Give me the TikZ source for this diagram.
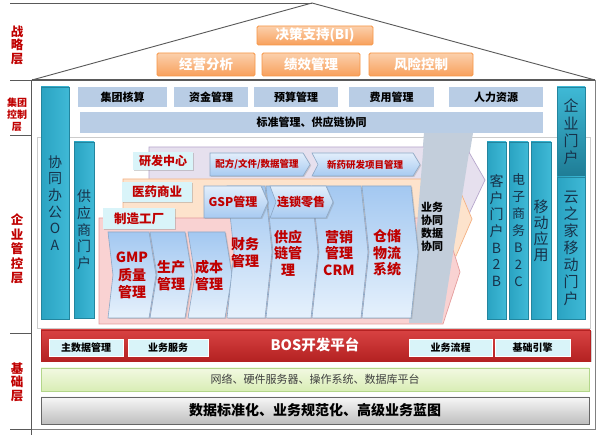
\documentclass[tikz,border=0pt]{standalone}
\usepackage{fontspec}
\setmainfont{Noto Sans CJK SC}
\usetikzlibrary{shadows}
\definecolor{tred}{HTML}{C00000}
\definecolor{roofD}{HTML}{F79646}
\definecolor{roofT}{HTML}{FBD0AC}
\definecolor{roofB}{HTML}{F8A05C}
\definecolor{grpC}{HTML}{B9CDE5}
\definecolor{tealL}{HTML}{2AA3C2}
\definecolor{tealR}{HTML}{3FB9D6}
\definecolor{tealD}{HTML}{23859E}
\definecolor{tealT}{HTML}{17324A}
\definecolor{tealDk}{HTML}{1E7C95}
\definecolor{cyanC}{HTML}{D9F4F9}
\definecolor{colD}{HTML}{8DA8C6}
\definecolor{colT}{HTML}{A3C8F1}
\definecolor{colB}{HTML}{E6F1FC}
\definecolor{rowT}{HTML}{E2EEFB}
\definecolor{rowB}{HTML}{A7CAF1}
\definecolor{purC}{HTML}{E6E0EE}
\definecolor{purD}{HTML}{B7A7CC}
\definecolor{oraC}{HTML}{FDE3CC}
\definecolor{oraD}{HTML}{F4B183}
\definecolor{pinkC}{HTML}{F9D2D2}
\definecolor{pinkD}{HTML}{E59C9C}
\definecolor{bandC}{HTML}{C3CEDB}
\definecolor{lineC}{HTML}{595959}
\definecolor{bosT}{HTML}{D84242}
\definecolor{bosB}{HTML}{B42222}
\definecolor{grnT}{HTML}{F2F9E2}
\definecolor{grnB}{HTML}{D9EDB5}
\definecolor{grnD}{HTML}{B3D68A}
\definecolor{gryT}{HTML}{F7F7F7}
\definecolor{gryB}{HTML}{BEBEBE}
\newcommand{\chevp}[7]{\path[#7] (#1,#3) -- ({#2-#6},#3) -- (#2,{(#3+#4)/2}) -- ({#2-#6},#4) -- (#1,#4) -- ({#1+#5},{(#3+#4)/2}) -- cycle;}
\begin{document}
\begin{tikzpicture}[x=1pt,y=-1pt,
  lbl/.style={text=tred, align=center, inner sep=0},
  roof/.style={rounded corners=1.5pt, draw=roofD, line width=0.8pt, top color=roofT, bottom color=roofB, text=white, inner sep=0, font=\fontsize{13.5}{15}\selectfont\bfseries},
  grp/.style={fill=grpC, inner sep=0, font=\fontsize{11}{13}\selectfont\bfseries, text=black},
  tealc/.style={draw=tealD, line width=0.6pt, left color=tealL, right color=tealR, inner sep=0, align=center, text=tealT, font=\fontsize{14}{16.7}\selectfont},
  cyanlbl/.style={fill=cyanC, drop shadow={shadow xshift=1.2pt, shadow yshift=-1.2pt, opacity=0.35}, text=tred, inner sep=0, font=\fontsize{12.5}{15}\selectfont\bfseries},
  colshape/.style={draw=colD, line width=0.6pt, top color=colT, bottom color=colB, drop shadow={shadow xshift=1.2pt, shadow yshift=-1pt, opacity=0.3}},
  rowshape/.style={draw=colD, line width=0.6pt, top color=rowT, bottom color=rowB, drop shadow={shadow xshift=1.2pt, shadow yshift=-1pt, opacity=0.3}},
  coltext/.style={text=tred, font=\fontsize{14}{16.5}\selectfont\bfseries, align=center, inner sep=0},
  bosbox/.style={fill=cyanC, draw=white, line width=0.6pt, inner sep=0, font=\fontsize{10}{12}\selectfont\bfseries, text=black, minimum height=17, drop shadow={shadow xshift=1pt, shadow yshift=-1pt, opacity=0.4}},
]
\useasboundingbox (0,0) rectangle (600,435);
\fill[white] (0,0) rectangle (600,435);

% --- frame lines ---
\draw[lineC, line width=0.9pt] (10,3) -- (312,3);
\draw[lineC, line width=0.9pt] (32,80) -- (312,3) -- (595,80);
\draw[lineC, line width=0.8pt] (10,80) -- (32,80);
\draw[lineC, line width=1.6pt] (32,80) -- (595,80);
\draw[gray, line width=0.7pt] (595,80) -- (595,429) -- (31,429);
\draw[lineC, line width=0.8pt] (31,80) -- (31,435);
\draw[lineC, line width=0.8pt] (10,135) -- (31,135);
\draw[lineC, line width=0.8pt] (10,333) -- (31,333);
\draw[lineC, line width=0.8pt] (10,429) -- (31,429);
\draw[gray!40, line width=0.6pt] (37,137) rectangle (590,328);

% --- left layer labels ---
\node[lbl, font=\fontsize{12.5}{13.5}\selectfont\bfseries] (l1) at (17,45) {战\\略\\层};
\node[lbl, font=\fontsize{10}{12}\selectfont\bfseries] (l2) at (17,115) {集团\\控制\\层};
\node[lbl, font=\fontsize{12.5}{14.5}\selectfont\bfseries] (l3) at (17,249) {企\\业\\管\\控\\层};
\node[lbl, font=\fontsize{12.5}{13.5}\selectfont\bfseries] (l4) at (17,382) {基\\础\\层};

% --- roof boxes ---
\node[roof, minimum width=116, minimum height=19] (bi) at (315,35.5) {决策支持(BI)};
\node[roof, minimum width=98, minimum height=23] (jy) at (206,64.5) {经营分析};
\node[roof, minimum width=98, minimum height=23] (jx) at (311,64.5) {绩效管理};
\node[roof, minimum width=104, minimum height=23] (fx) at (421,64.5) {风险控制};

% --- band behind ---
\path[fill=bandC] (424,133) -- (473,133) -- (442,323) -- (409,323) -- cycle;

% --- group control ---
\node[grp, minimum width=89, minimum height=20] (g1) at (122.5,97) {集团核算};
\node[grp, minimum width=74, minimum height=20] (g2) at (211,97) {资金管理};
\node[grp, minimum width=84, minimum height=20] (g3) at (296,97) {预算管理};
\node[grp, minimum width=85, minimum height=20] (g4) at (391.5,97) {费用管理};
\node[grp, minimum width=94, minimum height=20] (g5) at (496,97) {人力资源};
\node[grp, minimum width=463, minimum height=21] (std) at (311.5,122.5) {标准管理、供应链协同};

% --- layers ---
\path[draw=purD, fill=purC, line width=0.7pt] (149,147) -- (466,147) -- (485,180) -- (468,216) -- (149,216) -- cycle;
\path[draw=oraD, fill=oraC, line width=0.7pt] (123,179) -- (455,179) -- (472,219) -- (456,256) -- (123,256) -- cycle;
\path[draw=pinkD, fill=pinkC, line width=0.7pt] (99,218) -- (443,218) -- (460,272) -- (443,324) -- (99,324) -- cycle;
\path[fill=bandC] (424,140) -- (471,140) -- (442,323) -- (409,323) -- cycle;
\node[font=\fontsize{11}{13}\selectfont\bfseries, align=center, inner sep=0] (bz) at (432,227) {业务\\协同\\数据\\协同};

% --- left teal columns ---
\node[tealc, minimum width=28, minimum height=232] (oa) at (55,203) {协\\同\\办\\公\\O\\A};
\node[tealc, minimum width=20, minimum height=176] (gys) at (84,230) {供\\应\\商\\门\\户};

% --- R&D row ---
\chevp{210}{310}{153}{176}{0}{7}{rowshape}
\chevp{312}{420}{153}{176}{6}{7}{rowshape}
\node[text=tred, font=\fontsize{9.5}{11}\selectfont\bfseries, inner sep=0] (pf) at (257,164.5) {配方/文件/数据管理};
\node[text=tred, font=\fontsize{9.5}{11}\selectfont\bfseries, inner sep=0] (xy) at (365,164.5) {新药研发项目管理};

% --- columns ---
\chevp{108}{156}{232}{318}{5}{7}{colshape}
\chevp{150}{192}{232}{318}{7}{7}{colshape}
\chevp{188}{232}{232}{318}{7}{7}{colshape}
\chevp{227}{272}{186}{318}{7}{7}{colshape}
\chevp{266}{318}{186}{318}{7}{7}{colshape}
\chevp{312}{368}{186}{318}{7}{7}{colshape}
\chevp{362}{418}{186}{318}{7}{7}{colshape}
\chevp{204}{268}{186}{218}{0}{7}{rowshape}
\chevp{270}{333}{186}{218}{6}{7}{rowshape}
\node[text=tred, font=\fontsize{12}{14}\selectfont\bfseries, inner sep=0] (gsp) at (233,202) {GSP管理};
\node[text=tred, font=\fontsize{12}{14}\selectfont\bfseries, inner sep=0] (ls) at (301,202) {连锁零售};

\node[coltext, font=\fontsize{14}{17.5}\selectfont\bfseries] (gmp) at (132,275.5) {GMP\\质量\\管理};
\node[coltext] (sc) at (171,275.5) {生产\\管理};
\node[coltext] (cb) at (209,275.5) {成本\\管理};
\node[coltext] (cw) at (245,252.5) {财务\\管理};
\node[coltext] (gyl) at (288,253) {供应\\链管\\理};
\node[coltext] (yx) at (339,253) {营销\\管理\\CRM};
\node[coltext] (cc) at (387,253) {仓储\\物流\\系统};

% --- cyan labels ---
\node[cyanlbl, minimum width=60, minimum height=18, font=\fontsize{12}{14}\selectfont\bfseries] (yf) at (163,161) {研发中心};
\node[cyanlbl, minimum width=70, minimum height=20] (yy) at (157,192) {医药商业};
\node[cyanlbl, minimum width=72, minimum height=21] (zz) at (139,218.5) {制造工厂};

% --- right teal columns ---
\node[tealc, minimum width=19, minimum height=177] (b2b) at (496.5,230.5) {客\\户\\门\\户\\B\\2\\B};
\node[tealc, minimum width=19, minimum height=177, font=\fontsize{13}{17}\selectfont] (b2c) at (518.5,230.5) {电\\子\\商\\务\\B\\2\\C};
\node[tealc, minimum width=20, minimum height=177, font=\fontsize{15}{16}\selectfont] (yd) at (541,230.5) {移\\动\\应\\用};
\node[tealc, top color=tealR, bottom color=tealDk, minimum width=28, minimum height=90, font=\fontsize{15}{17.3}\selectfont] (qy) at (571,132) {企\\业\\门\\户};
\node[tealc, minimum width=28, minimum height=142, font=\fontsize{15}{17}\selectfont] (yzj) at (571,248) {云\\之\\家\\移\\动\\门\\户};

% --- base layer ---
\node[top color=bosT, bottom color=bosB, draw=bosB, minimum width=549, minimum height=31, inner sep=0, drop shadow={shadow xshift=1.5pt, shadow yshift=-1.5pt, opacity=0.35}] (bos) at (315.5,345.5) {};
\node[text=white, font=\fontsize{14.5}{16}\selectfont\bfseries, inner sep=0] (bost) at (315,345) {BOS开发平台};
\node[bosbox, minimum width=74] (zsj) at (86,347.5) {主数据管理};
\node[bosbox, minimum width=80] (ywfw) at (168,347.5) {业务服务};
\node[bosbox, minimum width=83] (ywlc) at (450.5,347.5) {业务流程};
\node[bosbox, minimum width=75] (jcyq) at (532.5,347.5) {基础引擎};
\node[top color=grnT, bottom color=grnB, draw=grnD, line width=0.6pt, minimum width=548, minimum height=23, inner sep=0, text=black!75, font=\fontsize{11}{13}\selectfont] (net) at (315,379.5) {网络、硬件服务器、操作系统、数据库平台};
\node[top color=gryT, bottom color=gryB, draw=black!60, line width=0.8pt, minimum width=548, minimum height=27, inner sep=0, font=\fontsize{14}{16}\selectfont\bfseries, drop shadow={shadow xshift=1pt, shadow yshift=-1pt, opacity=0.3}] (std2) at (315,410.5) {数据标准化、业务规范化、高级业务蓝图};
\end{tikzpicture}
\end{document}
